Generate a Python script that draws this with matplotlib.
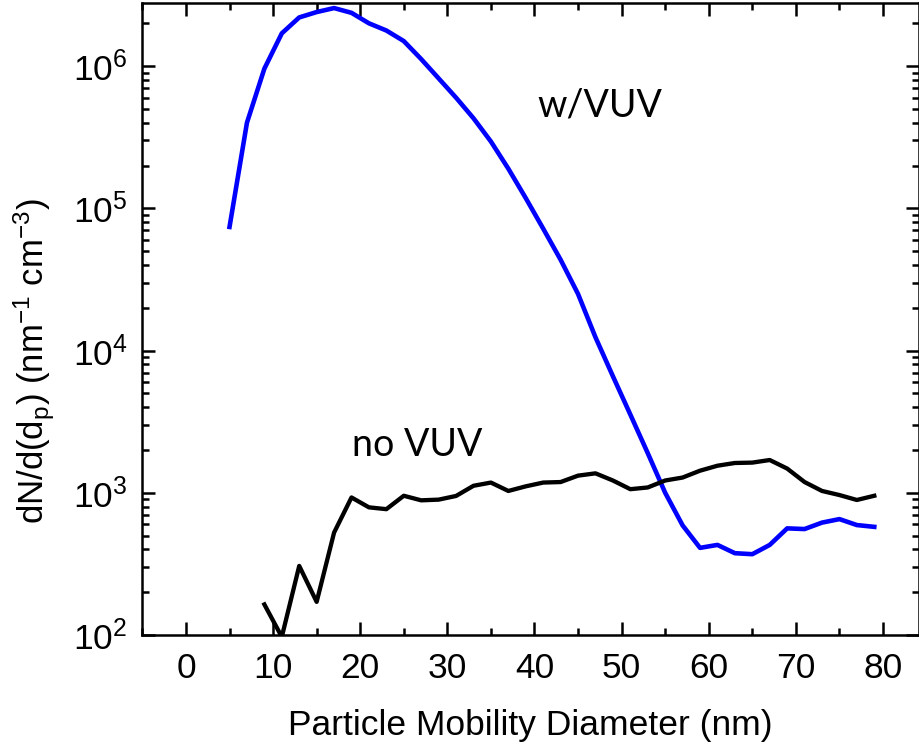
import math
import matplotlib
matplotlib.use("Agg")
import matplotlib.pyplot as plt
import matplotlib.transforms as mtransforms
from matplotlib.ticker import MultipleLocator, LogLocator, FixedLocator, NullFormatter, FuncFormatter

plt.rcParams['font.family'] = ['Liberation Sans', 'DejaVu Sans']
plt.rcParams['mathtext.fontset'] = 'custom'
plt.rcParams['mathtext.rm'] = 'Liberation Sans'
plt.rcParams['mathtext.it'] = 'Liberation Sans:italic'
plt.rcParams['mathtext.bf'] = 'Liberation Sans:bold'

# Size distributions (dN/d(dp), nm^-1 cm^-3) versus mobility diameter (nm)
dp_vuv = [5, 7, 9, 11, 13, 15, 17, 19, 21, 23, 25, 27, 29, 31, 33, 35, 37, 39,
          41, 43, 45, 47, 49, 51, 53, 55, 57, 59, 61, 63, 65, 67, 69, 71, 73,
          75, 77, 79]
n_vuv = [7.4e4, 4.0e5, 9.6e5, 1.7e6, 2.2e6, 2.4e6, 2.56e6, 2.37e6, 2.0e6,
         1.78e6, 1.5e6, 1.12e6, 8.2e5, 6.0e5, 4.3e5, 2.95e5, 1.9e5, 1.18e5,
         7.2e4, 4.35e4, 2.5e4, 1.24e4, 6.6e3, 3.55e3, 1.9e3, 1.0e3, 590, 410,
         430, 376, 370, 430, 562, 556, 617, 653, 593, 576]

dp_novuv = [9, 11, 13, 15, 17, 19, 21, 23, 25, 27, 29, 31, 33, 35, 37, 39, 41,
            43, 45, 47, 49, 51, 53, 55, 57, 59, 61, 63, 65, 67, 69, 71, 73, 75,
            77, 79]
n_novuv = [164, 97, 306, 171, 525, 927, 790, 767, 953, 885, 895, 950, 1120,
           1180, 1030, 1110, 1180, 1190, 1320, 1370, 1220, 1060, 1090, 1220,
           1280, 1430, 1550, 1620, 1630, 1700, 1480, 1190, 1030, 964, 890, 953]

x_ticks = [0, 10, 20, 30, 40, 50, 60, 70, 80]

fig = plt.figure(figsize=(9.2, 7.44), dpi=100)
ax = fig.add_axes([0.1543, 0.1465, 0.8446, 0.8495])

ax.plot(dp_vuv, n_vuv, color='#0000ff', lw=3.3, solid_joinstyle='round')
ax.plot(dp_novuv, n_novuv, color='black', lw=3.1, solid_joinstyle='round')

ax.set_yscale('log')
ax.set_xlim(-5.05, 84.13)
ax.set_ylim(1e2, 2.78e6)

ax.xaxis.set_major_locator(FixedLocator(x_ticks))
ax.xaxis.set_minor_locator(MultipleLocator(5))
ax.yaxis.set_major_locator(LogLocator(base=10, numticks=10))
ax.yaxis.set_minor_locator(LogLocator(base=10, subs=range(2, 10), numticks=20))
ax.yaxis.set_minor_formatter(NullFormatter())
ax.yaxis.set_major_formatter(FuncFormatter(lambda v, p: r'10$^{%d}$' % round(math.log10(v))))

ax.tick_params(which='both', direction='in', top=True, right=True, width=1.8,
               labelsize=25.5, color='black')
ax.tick_params(which='major', length=9.5)
ax.tick_params(which='minor', length=5)
ax.tick_params(axis='y', which='major', pad=10.5)
ax.tick_params(axis='x', which='major', pad=12)
for s in ax.spines.values():
    s.set_linewidth(1.8)

# x label: centred on the axes, baseline a few pixels above the figure bottom
ax.set_xlabel('Particle Mobility Diameter (nm)', fontsize=25.5)
label_tr = mtransforms.blended_transform_factory(ax.transAxes, fig.transFigure)
ax.xaxis.set_label_coords(0.5, 9 / 744, transform=label_tr)
ax.xaxis.label.set_va('baseline')

ax.set_ylabel(r'dN/d(d$_\mathregular{p}$) (nm$^\mathregular{-1}$ cm$^\mathregular{-3}$)', fontsize=25)
ax.yaxis.set_label_coords(-0.109, 0.433)

ax.text(47.5, 5.3e5, 'w/VUV', fontsize=27, family=['Lato', 'DejaVu Sans'],
        ha='center', va='center')
ax.text(26.5, 2.18e3, 'no VUV', fontsize=27, family=['Lato', 'DejaVu Sans'],
        ha='center', va='center')

fig.savefig('out.png', dpi=100)
